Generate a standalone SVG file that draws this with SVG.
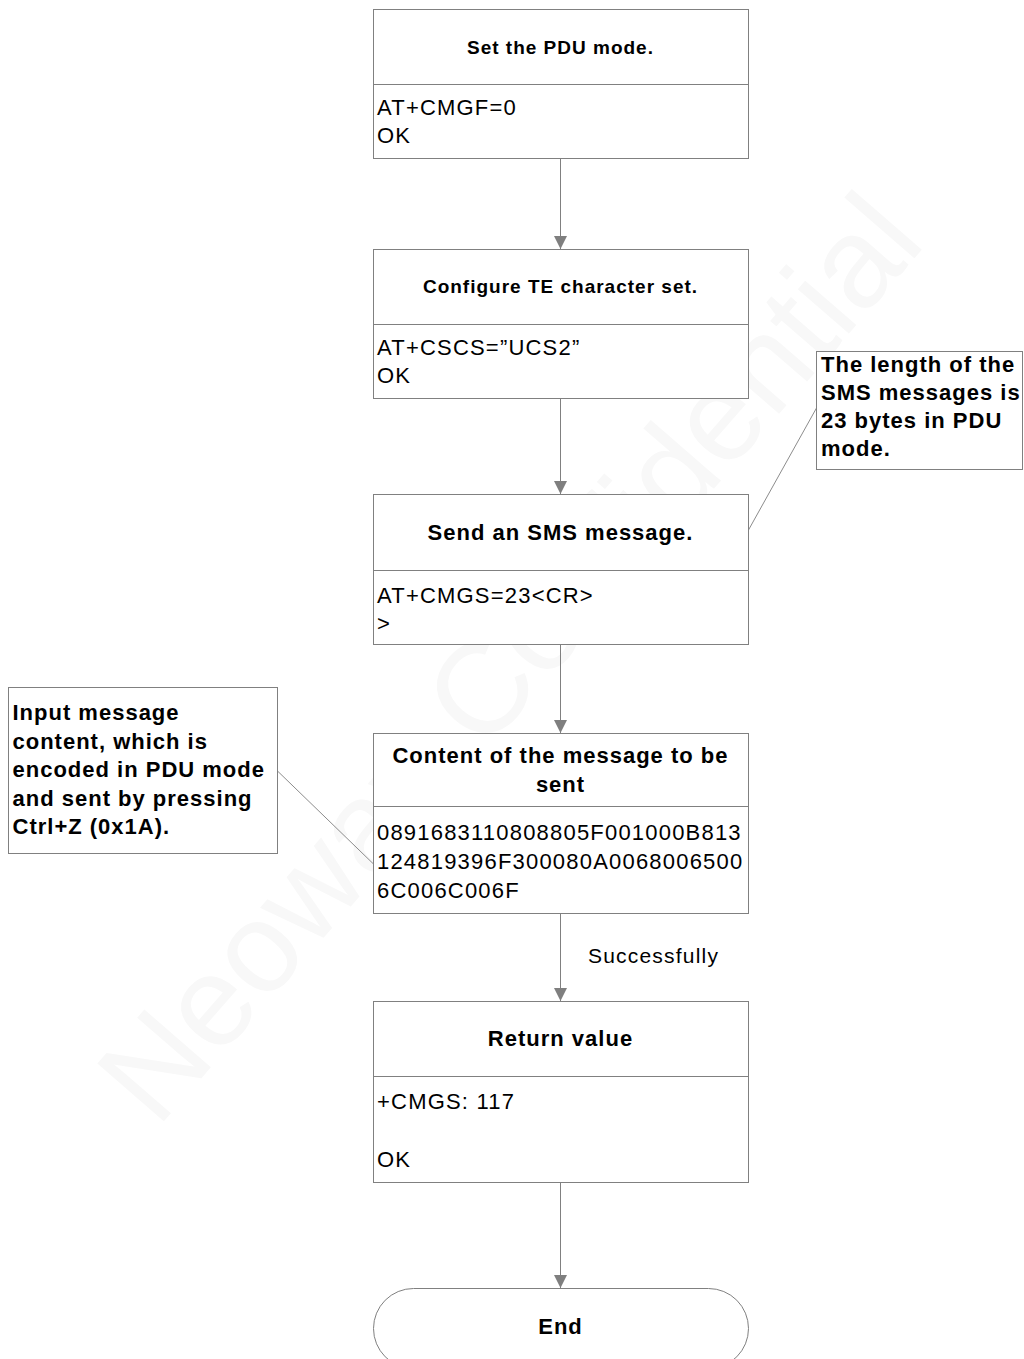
<svg xmlns="http://www.w3.org/2000/svg" width="1024" height="1359" viewBox="0 0 1024 1359">
<defs>
<marker id="arr" markerUnits="userSpaceOnUse" markerWidth="13" markerHeight="13" refX="13" refY="6.5" orient="auto">
<path d="M0,0 L13,6.5 L0,13 Z" fill="#7f7f7f"/>
</marker>
<style>
.box{fill:#fff;stroke:#808080;stroke-width:1}
.div{stroke:#808080;stroke-width:1}
.conn{stroke:#808080;stroke-width:1;fill:none}
.lead{stroke:#8c8c8c;stroke-width:1;fill:none}
.t{font-family:"Liberation Sans",Arial,sans-serif;font-weight:bold;font-size:22px;letter-spacing:1px;fill:#000}
.ts{font-family:"Liberation Sans",Arial,sans-serif;font-weight:bold;font-size:19px;letter-spacing:1px;fill:#000}
.b{font-family:"Liberation Sans",Arial,sans-serif;font-size:22px;letter-spacing:1.2px;fill:#000}
.wm{font-family:"Liberation Sans",Arial,sans-serif;font-size:128px;fill:#f8f8f8}
</style>
</defs>
<rect x="0" y="0" width="1024" height="1359" fill="#fff"/>
<g id="watermark" transform="translate(512,660) rotate(-49)">
<text class="wm" x="0" y="40" text-anchor="middle">Neoway Confidential</text>
</g>
<g id="connectors">
<line class="conn" x1="560.5" y1="159" x2="560.5" y2="249" marker-end="url(#arr)"/>
<line class="conn" x1="560.5" y1="399" x2="560.5" y2="494" marker-end="url(#arr)"/>
<line class="conn" x1="560.5" y1="645" x2="560.5" y2="733" marker-end="url(#arr)"/>
<line class="conn" x1="560.5" y1="914" x2="560.5" y2="1001" marker-end="url(#arr)"/>
<line class="conn" x1="560.5" y1="1183" x2="560.5" y2="1288" marker-end="url(#arr)"/>
<text class="b" x="588" y="963" style="font-size:21px">Successfully</text>
<line class="lead" x1="816.5" y1="408" x2="748.5" y2="530"/>
<line class="lead" x1="277.5" y1="771" x2="373.5" y2="864"/>
</g>
<g id="n1">
<rect class="box" x="373.5" y="9.5" width="375" height="149"/>
<line class="div" x1="373.5" y1="84.5" x2="748.5" y2="84.5"/>
<text class="ts" x="560.5" y="53.5" text-anchor="middle">Set the PDU mode.</text>
<text class="b" x="377" y="115">AT+CMGF=0</text>
<text class="b" x="377" y="143">OK</text>
</g>
<g id="n2">
<rect class="box" x="373.5" y="249.5" width="375" height="149"/>
<line class="div" x1="373.5" y1="324.5" x2="748.5" y2="324.5"/>
<text class="ts" x="560.5" y="293" text-anchor="middle">Configure TE character set.</text>
<text class="b" x="377" y="355">AT+CSCS=”UCS2”</text>
<text class="b" x="377" y="383">OK</text>
</g>
<g id="n3">
<rect class="box" x="373.5" y="494.5" width="375" height="150"/>
<line class="div" x1="373.5" y1="570.5" x2="748.5" y2="570.5"/>
<text class="t" x="560.5" y="540" text-anchor="middle">Send an SMS message.</text>
<text class="b" x="377" y="603">AT+CMGS=23&lt;CR&gt;</text>
<text class="b" x="377" y="631">&gt;</text>
</g>
<g id="n4">
<rect class="box" x="373.5" y="733.5" width="375" height="180"/>
<line class="div" x1="373.5" y1="806.5" x2="748.5" y2="806.5"/>
<text class="t" x="560.5" y="762.5" text-anchor="middle">Content of the message to be</text>
<text class="t" x="560.5" y="791.5" text-anchor="middle">sent</text>
<text class="b" x="377" y="840">0891683110808805F001000B813</text>
<text class="b" x="377" y="869">124819396F300080A0068006500</text>
<text class="b" x="377" y="898">6C006C006F</text>
</g>
<g id="n5">
<rect class="box" x="373.5" y="1001.5" width="375" height="181"/>
<line class="div" x1="373.5" y1="1076.5" x2="748.5" y2="1076.5"/>
<text class="t" x="560.5" y="1046" text-anchor="middle">Return value</text>
<text class="b" x="377" y="1109">+CMGS: 117</text>
<text class="b" x="377" y="1167">OK</text>
</g>
<g id="end">
<rect class="box" x="373.5" y="1288.5" width="375" height="80" rx="40" ry="40"/>
<text class="t" x="560.5" y="1334" text-anchor="middle">End</text>
</g>
<g id="note1">
<rect class="box" x="816.5" y="351.5" width="206" height="118"/>
<text class="t" x="821" y="372">The length of the</text>
<text class="t" x="821" y="400">SMS messages is</text>
<text class="t" x="821" y="428">23 bytes in PDU</text>
<text class="t" x="821" y="456">mode.</text>
</g>
<g id="note2">
<rect class="box" x="8.5" y="687.5" width="269" height="166"/>
<text class="t" x="12.5" y="720">Input message</text>
<text class="t" x="12.5" y="749">content, which is</text>
<text class="t" x="12.5" y="777">encoded in PDU mode</text>
<text class="t" x="12.5" y="806">and sent by pressing</text>
<text class="t" x="12.5" y="834">Ctrl+Z (0x1A).</text>
</g>
</svg>
